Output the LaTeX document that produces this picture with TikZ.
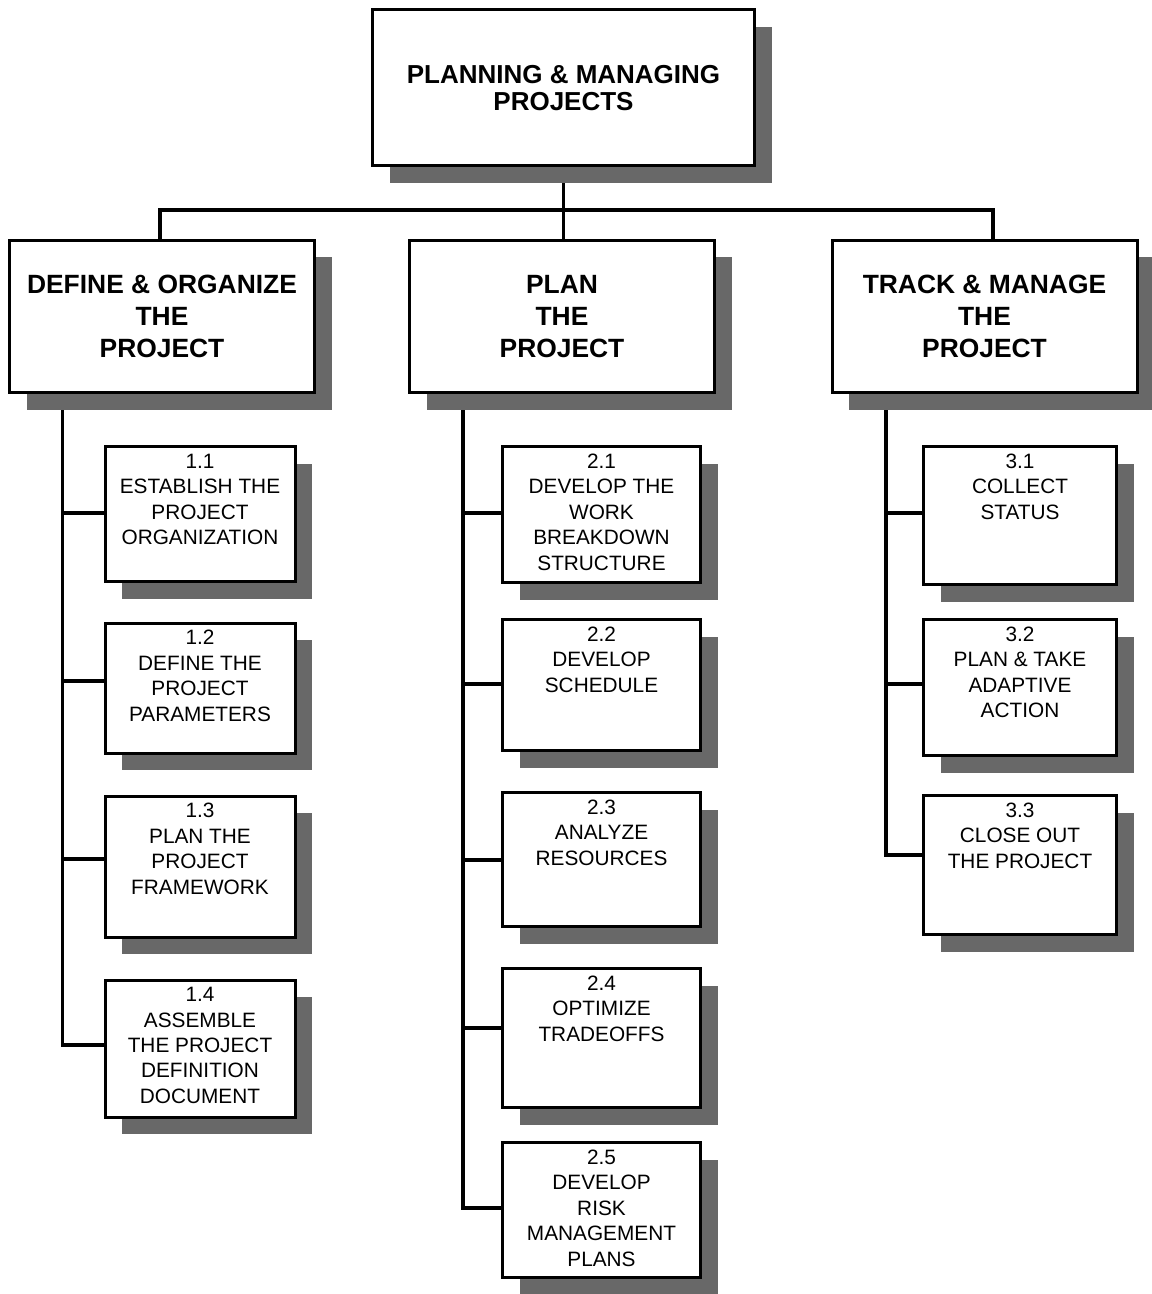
\documentclass[tikz,border=0pt]{standalone}
\usepackage{fontspec}
\setmainfont{Liberation Sans}
\usetikzlibrary{shadows,backgrounds}
\definecolor{shadegray}{RGB}{104,104,104}
\tikzset{
  box/.style={draw, line width=1.5pt, fill=white,
    drop shadow={shadow xshift=8.5pt, shadow yshift=-8.5pt, fill=shadegray, opacity=1}},
  head/.style={box, align=center, font=\fontsize{13.2}{15.8}\selectfont\bfseries,
    minimum width=152.5pt, minimum height=76pt},
  task/.style={box, label={[anchor=north, align=center, inner sep=0pt, yshift=-4.25pt,
    font=\fontsize{10.4}{12.7}\selectfont]north:#1}},
  link/.style={line width=1.6pt}
}

\begin{document}
\begin{tikzpicture}[x=0.5pt, y=-0.5pt]
    \useasboundingbox (0,0) rectangle (1151,1294);
    \node[box, align=center, font=\fontsize{13}{13.3}\selectfont\bfseries,
      minimum width=191pt, minimum height=78pt] (top) at (563.5,88) {PLANNING \& MANAGING\\PROJECTS};
    \node[head] (L) at (162,316.5) {DEFINE \& ORGANIZE\\THE\\PROJECT};
    \node[head] (M) at (562,316.5) {PLAN\\THE\\PROJECT};
    \node[head] (R) at (984.5,316.5) {TRACK \& MANAGE\\THE\\PROJECT};

    \node[task={1.1\\ESTABLISH THE\\PROJECT\\ORGANIZATION}, minimum width=95pt, minimum height=67.5pt] (c11) at (200,514) {};
    \node[task={1.2\\DEFINE THE\\PROJECT\\PARAMETERS}, minimum width=95pt, minimum height=65pt] (c12) at (200,688) {};
    \node[task={1.3\\PLAN THE\\PROJECT\\FRAMEWORK}, minimum width=95pt, minimum height=70.5pt] (c13) at (200,866.5) {};
    \node[task={1.4\\ASSEMBLE\\THE PROJECT\\DEFINITION\\DOCUMENT}, minimum width=95pt, minimum height=68.5pt] (c14) at (200,1048.5) {};

    \node[task={2.1\\DEVELOP THE\\WORK\\BREAKDOWN\\STRUCTURE}, minimum width=99pt, minimum height=68pt] (c21) at (601.5,514.5) {};
    \node[task={2.2\\DEVELOP\\SCHEDULE}, minimum width=99pt, minimum height=65.5pt] (c22) at (601.5,685) {};
    \node[task={2.3\\ANALYZE\\RESOURCES}, minimum width=99pt, minimum height=67pt] (c23) at (601.5,859.5) {};
    \node[task={2.4\\OPTIMIZE\\TRADEOFFS}, minimum width=99pt, minimum height=69.5pt] (c24) at (601.5,1038) {};
    \node[task={2.5\\DEVELOP\\RISK\\MANAGEMENT\\PLANS}, minimum width=99pt, minimum height=67.5pt] (c25) at (601.5,1210) {};

    \node[task={3.1\\COLLECT\\STATUS}, minimum width=96.5pt, minimum height=69pt] (c31) at (1020,515.5) {};
    \node[task={3.2\\PLAN \& TAKE\\ADAPTIVE\\ACTION}, minimum width=96.5pt, minimum height=68pt] (c32) at (1020,687.5) {};
    \node[task={3.3\\CLOSE OUT\\THE PROJECT}, minimum width=96.5pt, minimum height=69.5pt] (c33) at (1020,865) {};

    \coordinate (bus) at (563.5,210);
    \coordinate (tL) at ([xshift=27.25pt]L.south west);
    \coordinate (tM) at ([xshift=27.5pt]M.south west);
    \coordinate (tR) at ([xshift=27.75pt]R.south west);

    \begin{scope}[on background layer]
    \draw[link] (top.south) -- (top.south |- M.north);
    \draw[link] ([xshift=-1pt]L.north) |- (bus) -| ([xshift=4.25pt]R.north);
    \draw[link] (tL) |- ([yshift=1.75pt]c14.west);
    \draw[link] (tM) |- ([yshift=1pt]c25.west);
    \draw[link] (tR) |- ([yshift=5pt]c33.west);
    \foreach \t/\c/\d in {tL/c11/0.5,tL/c12/3.5,tL/c13/3.75,tM/c21/0.75,tM/c22/0.5,tM/c23/-0.25,tM/c24/5,tR/c31/1.25,tR/c32/1.75}
      \draw[link] ([yshift=\d pt]\c.west) coordinate (e) -- (\t |- e);
    \end{scope}
\end{tikzpicture}
\end{document}
